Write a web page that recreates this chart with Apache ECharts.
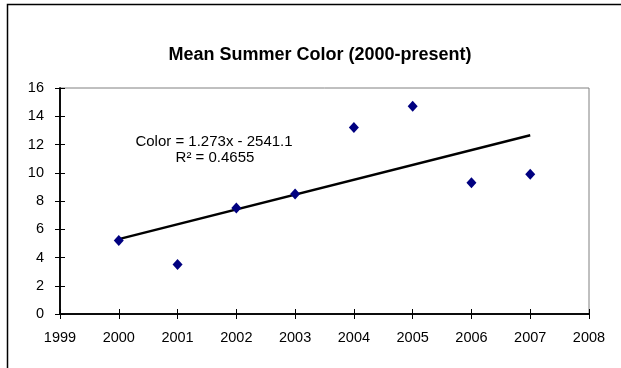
<!DOCTYPE html>
<html><head><meta charset="utf-8">
<script src="https://cdn.jsdelivr.net/npm/echarts@6/dist/echarts.min.js"></script>
<style>html,body{margin:0;padding:0;background:#fff}#c{width:621px;height:368px}</style>
</head><body><div id="c"></div>
<script>
var years = [2000, 2001, 2002, 2003, 2004, 2005, 2006, 2007];
var colorValues = [5.2, 3.5, 7.5, 8.5, 13.2, 14.7, 9.3, 9.9];
var trendYears = [2000, 2007];
var trendValues = [5.3, 12.65];
var titleText = 'Mean Summer Color (2000-present)';
var equationLines = ['Color = 1.273x - 2541.1', 'R\u00b2 = 0.4655'];
var xMin = 1999, xMax = 2008, yMin = 0, yMax = 16, yStep = 2;

var font = 'Liberation Sans, Arial, sans-serif';
var chart = echarts.init(document.getElementById('c'), null, {renderer: 'canvas'});
var axisBase = {
  axisLine: {show: true, onZero: false, lineStyle: {color: '#000', width: 1.5}},
  splitLine: {show: false}
};
function plain(v) { return String(v); }
chart.setOption({
  animation: false,
  backgroundColor: '#fff',
  title: {text: titleText, left: 315, textAlign: 'center', top: 41,
    textStyle: {fontFamily: font, fontSize: 18, fontWeight: 'bold', color: '#000'}},
  grid: {left: 60, right: 32, top: 88, bottom: 54, show: true, borderColor: '#808080', borderWidth: 1, backgroundColor: 'transparent'},
  xAxis: [
    Object.assign({type: 'value', min: xMin, max: xMax, interval: 1, position: 'bottom',
      axisTick: {show: true, inside: false, length: 5, lineStyle: {color: '#000', width: 1}},
      axisLabel: {show: true, margin: 16, formatter: plain, fontFamily: font, fontSize: 14.5, color: '#000'}}, axisBase),
    Object.assign({type: 'value', min: xMin, max: xMax, interval: 1, position: 'bottom', offset: 0,
      axisTick: {show: true, inside: true, length: 5, lineStyle: {color: '#000', width: 1}},
      axisLabel: {show: false}}, axisBase)
  ],
  yAxis: [
    Object.assign({type: 'value', min: yMin, max: yMax, interval: yStep, position: 'left',
      axisTick: {show: true, inside: false, length: 5, lineStyle: {color: '#000', width: 1}},
      axisLabel: {show: true, margin: 16, formatter: plain, fontFamily: font, fontSize: 14.5, color: '#000'}}, axisBase),
    Object.assign({type: 'value', min: yMin, max: yMax, interval: yStep, position: 'left', offset: 0,
      axisTick: {show: true, inside: true, length: 5, lineStyle: {color: '#000', width: 1}},
      axisLabel: {show: false}}, axisBase)
  ],
  graphic: [
    {type: 'rect', shape: {x: 7.5, y: 4.5, width: 700, height: 500}, style: {fill: 'none', stroke: '#000', lineWidth: 1.5}, z: -1},
    {type: 'text', x: 214, y: 142, style: {text: equationLines[0], fontFamily: font, fontSize: 15, fill: '#000', align: 'center', verticalAlign: 'middle'}},
    {type: 'text', x: 215, y: 158, style: {text: equationLines[1], fontFamily: font, fontSize: 15, fill: '#000', align: 'center', verticalAlign: 'middle'}}
  ],
  series: [
    {type: 'line', data: trendYears.map(function (x, i) { return [x, trendValues[i]]; }),
      symbol: 'none', lineStyle: {color: '#000', width: 2.5}, z: 2},
    {type: 'scatter', data: years.map(function (x, i) { return [x, colorValues[i]]; }),
      symbol: 'diamond', symbolSize: [10, 11], itemStyle: {color: '#000080', opacity: 1}, z: 3}
  ]
});
</script></body></html>
